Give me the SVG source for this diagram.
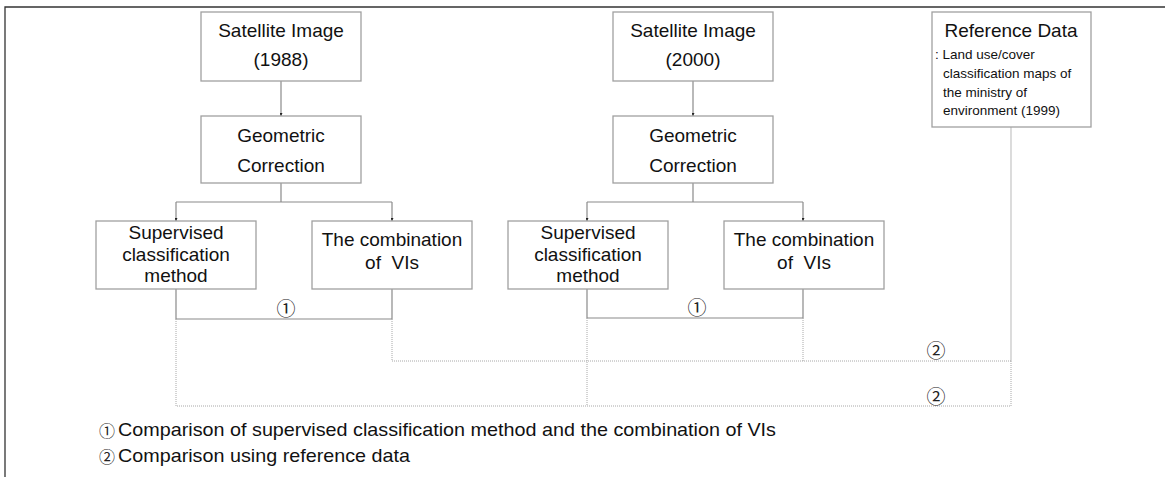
<svg xmlns="http://www.w3.org/2000/svg" width="1165" height="477" viewBox="0 0 1165 477">
<style>
.box{fill:#fff;stroke:#a0a0a0;stroke-width:1.3}
.t{font-family:"Liberation Sans",Arial,sans-serif;font-size:19px;fill:#111;text-anchor:middle}
.s{font-family:"Liberation Sans",Arial,sans-serif;font-size:13.5px;fill:#111}
.c{font-family:"Noto Sans CJK KR","DejaVu Sans",sans-serif;fill:#222;text-anchor:middle;dominant-baseline:central}
.solid{fill:none;stroke:#8a8a8a;stroke-width:1.2}
.dot{fill:none;stroke:#a8a8a8;stroke-width:1;stroke-dasharray:1 1}
.lg{font-family:"Liberation Sans",Arial,sans-serif;font-size:19px;fill:#111}
</style>
<defs>
<marker id="ah" viewBox="0 0 4 4" refX="4" refY="2" markerWidth="3" markerHeight="3" orient="auto" markerUnits="userSpaceOnUse">
<path d="M0,0 L4,2 L0,4 z" fill="#222"/>
</marker>
</defs>
<rect width="1165" height="477" fill="#fff"/>
<g id="frame">
<path d="M5,477 V7 H1165" fill="none" stroke="#333" stroke-width="1.3"/>
</g>
<g id="connectors">
<path class="solid" d="M281,81 V116" marker-end="url(#ah)"/>
<path class="solid" d="M281,183 V202 M176,202 H392"/>
<path class="solid" d="M176,202 V221" marker-end="url(#ah)"/>
<path class="solid" d="M392,202 V221" marker-end="url(#ah)"/>
<path class="solid" d="M176,289 V319 H392 V289"/>
<path class="solid" d="M693,81 V116" marker-end="url(#ah)"/>
<path class="solid" d="M693,183 V202 M587,202 H803"/>
<path class="solid" d="M587,202 V221" marker-end="url(#ah)"/>
<path class="solid" d="M803,202 V221" marker-end="url(#ah)"/>
<path class="solid" d="M587,289 V318 H803 V289"/>
<path d="M1011,127 V361" fill="none" stroke="#c4c4c4" stroke-width="1.2"/>
<path class="dot" d="M392,319 V361 H1011 M803,318 V361"/>
<path class="dot" d="M176,319 V406 H1011 V361 M587,318 V406"/>
</g>
<g id="sat1988">
<rect class="box" x="201" y="12" width="160" height="69"/>
<text class="t" x="281" y="37">Satellite Image</text>
<text class="t" x="281" y="66">(1988)</text>
</g>
<g id="geo1988">
<rect class="box" x="201" y="116" width="160" height="67"/>
<text class="t" x="281" y="142">Geometric</text>
<text class="t" x="281" y="172">Correction</text>
</g>
<g id="sup1988">
<rect class="box" x="96" y="221" width="160" height="68"/>
<text class="t" x="176" y="239">Supervised</text>
<text class="t" x="176" y="261">classification</text>
<text class="t" x="176" y="282">method</text>
</g>
<g id="vi1988">
<rect class="box" x="312" y="221" width="160" height="68"/>
<text class="t" x="392" y="246">The combination</text>
<text class="t" x="392" y="269" xml:space="preserve">of  VIs</text>
</g>
<g id="sat2000">
<rect class="box" x="613" y="12" width="160" height="69"/>
<text class="t" x="693" y="37">Satellite Image</text>
<text class="t" x="693" y="66">(2000)</text>
</g>
<g id="geo2000">
<rect class="box" x="613" y="116" width="160" height="67"/>
<text class="t" x="693" y="142">Geometric</text>
<text class="t" x="693" y="172">Correction</text>
</g>
<g id="sup2000">
<rect class="box" x="508" y="221" width="160" height="68"/>
<text class="t" x="588" y="239">Supervised</text>
<text class="t" x="588" y="261">classification</text>
<text class="t" x="588" y="282">method</text>
</g>
<g id="vi2000">
<rect class="box" x="724" y="221" width="160" height="68"/>
<text class="t" x="804" y="246">The combination</text>
<text class="t" x="804" y="269" xml:space="preserve">of  VIs</text>
</g>
<g id="refdata">
<rect class="box" x="932" y="12" width="159" height="115"/>
<text class="t" x="1011" y="37">Reference Data</text>
<text class="s" x="935" y="59">: Land use/cover</text>
<text class="s" x="943" y="78">classification  maps of</text>
<text class="s" x="943" y="97">the ministry  of</text>
<text class="s" x="943" y="115">environment (1999)</text>
</g>
<g id="labels">
<text class="c" x="286" y="307" font-size="19">①</text>
<text class="c" x="697" y="306" font-size="19">①</text>
<text class="c" x="936" y="349" font-size="19">②</text>
<text class="c" x="936" y="395" font-size="19">②</text>
</g>
<g id="legend">
<text class="c" x="107" y="430" font-size="16">①</text>
<text class="lg" x="118" y="436" textLength="658" lengthAdjust="spacingAndGlyphs">Comparison of supervised classification method and the combination of VIs</text>
<text class="c" x="107" y="456" font-size="16">②</text>
<text class="lg" x="118" y="462" textLength="292" lengthAdjust="spacingAndGlyphs">Comparison using reference data</text>
</g>
</svg>
